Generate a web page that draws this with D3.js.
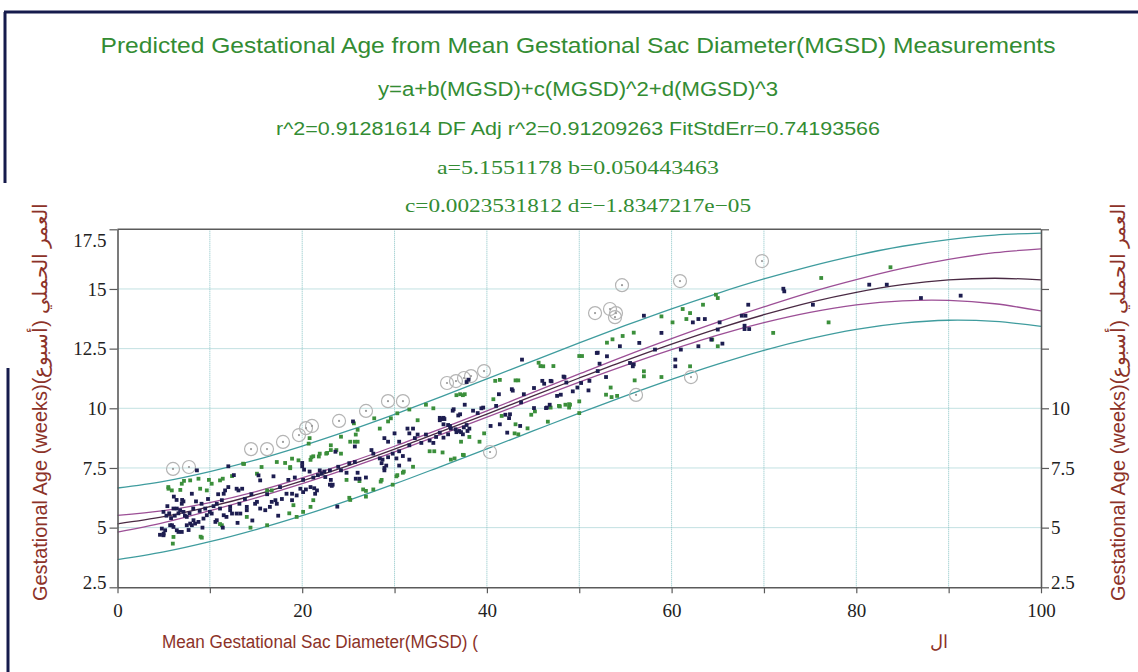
<!DOCTYPE html>
<html>
<head>
<meta charset="utf-8">
<title>Predicted Gestational Age from MGSD</title>
<script src="https://d3js.org/d3.v7.min.js"></script>
<style>
  body { margin: 0; background: #fff; }
  svg text { font-family: "Liberation Sans", Arial, sans-serif; }
  .tick text { font-family: "Liberation Serif", "Times New Roman", serif; font-size: 19px; fill: #222; }
</style>
</head>
<body>
<div id="chart"></div>
<script>
// axis ticks
var xTicks = [0, 10, 20, 30, 40, 50, 60, 70, 80, 90, 100];
var xLabels = [0, 20, 40, 60, 80, 100];
var yTicks = [2.5, 5, 7.5, 10, 12.5, 15, 17.5];
var rightLabels = [2.5, 5, 7.5, 10];

// fitted curve and bands, read at every 5 mm of MGSD
var fitX = [0, 5, 10, 15, 20, 25, 30, 35, 40, 45, 50, 55, 60, 65, 70, 75, 80, 85, 90, 95, 100];
var fitY = [5.16, 5.46, 5.88, 6.38, 6.96, 7.60, 8.29, 9.02, 9.76, 10.52, 11.27, 12.00, 12.69, 13.34, 13.92, 14.44, 14.86, 15.18, 15.38, 15.45, 15.38];
var confUpper = [5.51, 5.71, 6.05, 6.51, 7.08, 7.72, 8.41, 9.14, 9.89, 10.67, 11.44, 12.20, 12.92, 13.61, 14.25, 14.86, 15.39, 15.86, 16.24, 16.52, 16.68];
var confLower = [4.81, 5.21, 5.71, 6.25, 6.84, 7.48, 8.17, 8.90, 9.63, 10.37, 11.10, 11.80, 12.46, 13.07, 13.59, 14.02, 14.33, 14.50, 14.52, 14.38, 14.08];
var predUpper = [6.66, 6.94, 7.35, 7.84, 8.42, 9.06, 9.75, 10.48, 11.23, 11.99, 12.74, 13.47, 14.17, 14.82, 15.42, 15.95, 16.41, 16.79, 17.07, 17.26, 17.34];
var predLower = [3.66, 3.98, 4.41, 4.92, 5.50, 6.14, 6.83, 7.56, 8.30, 9.05, 9.80, 10.52, 11.21, 11.85, 12.43, 12.92, 13.31, 13.57, 13.69, 13.64, 13.43];

// measurements [MGSD, weeks]
var navyPts = [
  [12.0,7.57],[20.0,7.71],[20.0,7.57],[20.2,7.43],[8.05,6.42],[7.14,6.10],[6.96,6.0],[6.78,5.73],[15.27,7.19],[15.45,6.98],
  [16.89,7.15],[17.6,6.70],[18.3,6.42],[18.9,6.15],[19.4,6.35],[15.1,6.08],[14.9,6.0],[15.45,5.80],[16.0,5.73],[16.5,5.87],
  [16.7,6.08],[17.1,6.15],[17.25,6.0],[14.0,5.87],[14.0,5.73],[13.3,5.59],[12.9,5.59],[12.2,5.87],[12.2,5.73],[12.4,5.59],
  [11.1,5.80],[10.75,6.0],[11.3,6.15],[11.5,6.42],[11.65,6.56],[12.0,6.70],[12.9,6.63],[13.1,6.56],[13.5,6.63],[10.0,5.66],
  [10.2,5.59],[9.67,5.52],[9.31,5.38],[8.77,5.24],[8.23,5.31],[7.87,5.17],[7.5,5.45],[7.14,5.66],[6.6,5.6],[6.42,5.80],
  [6.06,5.80],[4.98,5.66],[4.8,4.96],[5.16,4.89],[4.98,4.68],[5.7,5.10],[6.06,5.03],[6.42,4.89],[6.6,4.82],[6.96,4.82],
  [7.5,5.10],[8.05,5.10],[8.4,5.17],[10.6,5.24],[10.75,5.31],[11.5,5.52],[11.8,5.45],[18.9,6.42],[19.8,6.63],[20.1,6.49],
  [20.9,6.70],[21.4,6.42],[21.6,6.56],[22.1,7.26],[22.5,7.12],[21.9,7.40],[4.6,4.7],[5.0,4.75],[5.9,5.1],[6.4,6.16],
  [7.0,6.16],[8.6,7.4],[5.3,5.5],[5.6,5.6],[5.8,5.4],[6.2,5.5],[7.3,5.5],[7.8,5.6],[8.2,5.8],[8.9,5.7],
  [9.1,6.0],[9.5,5.8],[9.8,6.2],[10.4,5.9],[8.5,6.1],[9.2,5.0],[7.7,4.9],[5.4,5.9],[6.1,6.3],[10.9,6.4],
  [13.8,6.2],[14.5,6.4],[13.2,6.0],[16.2,6.4],[17.8,6.2],[18.5,7.0],[19.2,7.1],[14.6,5.3],[13.0,5.2],[17.4,5.5],
  [11.4,5.0],[12.6,7.2],[20.8,7.35],[21.2,7.1],[21.7,7.2],[22.4,7.35],[23.0,7.4],[23.1,7.0],[23.3,6.8],[23.9,7.55],
  [24.2,7.4],[24.8,7.3],[25.1,7.7],[25.7,7.75],[26.0,7.3],[26.2,7.05],[26.9,7.1],[27.5,8.25],[27.7,8.1],[28.4,7.9],
  [28.6,7.7],[28.9,7.5],[29.1,7.6],[28.9,8.75],[29.3,8.6],[29.8,8.1],[30.2,7.9],[30.5,8.2],[30.5,8.6],[30.0,8.95],
  [30.9,8.0],[31.4,9.15],[31.6,8.95],[32.0,9.15],[32.2,8.75],[31.6,8.45],[32.5,8.9],[32.9,8.55],[33.4,8.9],[33.8,8.65],
  [34.2,8.55],[34.5,8.8],[34.9,9.5],[35.1,9.55],[35.4,9.55],[35.8,9.3],[36.1,9.15],[36.3,9.9],[36.9,9.7],[36.7,9.0],
  [37.2,9.0],[37.8,9.3],[38.1,9.15],[38.5,9.9],[39.0,9.8],[39.4,10.0],[37.6,10.15],[37.8,11.1],[25.7,8.4],[25.5,9.45],
  [20.1,7.0],[20.4,6.6],[21.3,6.65],[23.0,6.8],[23.2,6.75],[25.8,7.05],[28.7,7.85],[29.3,7.95],[30.5,7.6],[31.6,7.85],
  [28.9,7.4],[23.8,5.88],[23.6,8.18],[39.6,10.03],[41.0,10.1],[41.3,10.59],[42.7,10.8],[44.0,10.59],[42.5,9.75],[41.4,9.33],
  [40.4,9.26],[42.2,8.98],[43.6,9.26],[46.0,11.15],[46.9,11.15],[46.5,10.03],[47.6,10.52],[48.3,11.33],[48.6,11.08],[51.1,11.15],
  [49.8,10.87],[52.0,11.56],[52.0,12.33],[55.9,11.84],[38.0,11.2],[36.4,9.96],[37.1,9.75],[35.3,9.33],[36.0,9.26],[36.6,9.12],
  [37.0,9.05],[37.5,9.2],[37.9,9.05],[37.4,8.91],[35.8,8.91],[35.3,8.77],[34.9,8.98],[34.9,9.6],[35.3,9.6],[43.8,12.04],
  [42.8,10.74],[45.1,10.85],[47.0,11.13],[46.2,11.03],[48.4,11.31],[49.3,10.71],[50.2,11.06],[48.0,10.57],[46.8,10.15],[46.4,10.01],
  [45.1,10.01],[43.7,10.25],[42.0,9.73],[42.4,9.59],[51.0,10.75],[51.9,12.32],[52.2,11.87],[53.0,12.18],[52.9,11.31],[55.5,11.90],
  [55.8,11.76],[54.4,12.60],[56.5,12.74],[57.0,13.88],[58.9,13.16],[58.2,12.46],[60.4,12.04],[60.4,11.76],[61.0,12.46],[62.3,13.60],
  [62.9,13.74],[63.6,13.74],[65.2,13.60],[65.0,13.30],[62.9,12.60],[64.3,12.88],[65.5,12.71],[67.6,13.88],[68.0,13.88],[68.3,14.34],
  [67.9,13.46],[67.9,13.32],[68.4,13.32],[72.1,15.01],[72.2,14.90],[75.3,14.34],[81.4,15.18],[83.3,15.18],[87.0,14.62],[91.3,14.72]
];
var greenPts = [
  [13.6,7.68],[15.6,7.54],[17.25,7.75],[18.15,7.71],[18.7,7.54],[18.9,7.89],[19.6,7.82],[21.2,7.99],[21.9,8.10],[22.7,8.13],
  [20.7,8.52],[6.96,6.84],[7.87,6.98],[8.95,6.63],[10.2,6.84],[11.1,6.98],[9.67,6.56],[8.77,7.05],[15.1,7.26],[16.2,6.56],
  [16.7,6.56],[6.06,4.61],[5.99,4.33],[9.13,4.58],[11.3,5.10],[14.4,5.0],[16.2,5.10],[14.0,5.45],[5.88,6.56],[5.52,6.63],
  [21.2,6.15],[20.9,5.87],[19.4,5.45],[19.05,5.94],[20.1,5.66],[7.2,6.96],[5.5,6.7],[6.8,6.58],[9.9,7.0],[11.4,7.05],
  [12.4,7.16],[13.7,7.67],[18.7,7.49],[9.0,4.62],[11.1,5.15],[18.6,5.6],[25.2,6.16],[26.9,6.54],[28.5,6.93],[30.3,7.2],
  [31.0,7.35],[36.5,7.9],[37.5,8.04],[43.0,8.95],[44.4,9.16],[46.6,9.44],[24.2,8.81],[25.6,9.37],[27.8,9.58],[29.6,9.58],
  [30.3,9.79],[20.9,7.84],[21.8,7.98],[23.1,8.25],[25.2,8.6],[26.0,8.6],[20.8,8.75],[23.1,8.45],[23.7,8.25],[24.2,8.1],
  [22.6,8.1],[21.0,7.95],[25.7,8.6],[25.8,8.9],[26.0,9.1],[28.4,9.15],[29.3,9.45],[31.6,9.95],[33.4,10.15],[34.2,10.0],
  [32.5,9.5],[33.8,8.2],[34.3,8.2],[35.2,8.15],[36.1,7.85],[37.4,8.05],[37.4,10.55],[36.7,10.55],[38.1,8.8],[39.7,8.95],
  [39.2,8.6],[37.2,8.6],[24.8,7.0],[26.2,6.95],[28.6,7.0],[27.7,6.6],[30.2,7.15],[30.9,7.3],[29.8,6.8],[32.0,7.55],
  [26.9,6.3],[25.1,6.25],[26.6,6.6],[37.1,10.59],[37.6,10.59],[40.9,11.15],[41.4,11.19],[43.1,11.17],[43.4,11.17],[45.6,11.91],
  [45.8,11.77],[47.2,11.77],[46.9,10.03],[47.8,10.1],[48.9,10.03],[48.9,10.17],[50.0,12.19],[50.3,12.19],[53.0,12.75],[53.6,12.89],
  [54.7,13.03],[55.9,13.17],[56.0,11.17],[54.1,10.52],[53.4,10.87],[40.7,10.38],[43.4,8.91],[43.1,9.33],[41.6,9.68],[46.1,11.76],
  [52.9,10.57],[53.5,10.47],[57.0,11.55],[57.0,11.34],[58.9,13.85],[58.9,11.31],[60.1,13.60],[61.2,14.16],[62.0,13.99],[63.4,14.34],
  [61.6,13.74],[64.8,14.76],[65.0,14.62],[65.0,12.60],[64.4,12.88],[62.0,11.76],[71.0,13.16],[76.2,15.46],[77.0,13.60],[83.7,15.91],
  [47.9,10.08],[48.5,10.15],[49.0,10.15],[50.0,10.29],[50.0,9.80],[44.8,9.73],[45.2,9.87]
];
var outlierPts = [
  [6.01,7.46],[7.74,7.54],[14.46,8.29],[16.19,8.29],[17.92,8.59],[19.65,8.88],[20.41,9.17],[21.06,9.26],[23.99,9.47],[26.91,9.89],
  [29.29,10.30],[30.91,10.30],[35.68,11.06],[36.65,11.14],[37.52,11.27],[38.28,11.35],[39.69,11.56],[40.34,8.17],[51.71,13.99],[53.33,14.16],
  [53.98,13.99],[53.87,13.82],[54.63,15.16],[60.91,15.33],[69.79,16.17],[62.10,11.31],[56.15,10.56]
];

var W = 1138, H = 672;
var svg = d3.select("#chart").append("svg").attr("width", W).attr("height", H);

var x = d3.scaleLinear().domain([0, 100]).range([117.5, 1041]);
var y = d3.scaleLinear().domain([2.5, 17.5]).range([587.3, 229.3]);

// window frame left over from the screenshot
svg.append("path")
  .attr("d", "M4,12H1138M5,12V183M8,368V672")
  .attr("stroke", "#161b4c").attr("stroke-width", 3).attr("fill", "none");

// titles
var titleLines = [
  { t: "Predicted Gestational Age from  Mean Gestational Sac Diameter(MGSD) Measurements", y: 53, size: 22, len: 955, serif: false },
  { t: "y=a+b(MGSD)+c(MGSD)^2+d(MGSD)^3", y: 96, size: 20, len: 400, serif: false },
  { t: "r^2=0.91281614  DF Adj r^2=0.91209263  FitStdErr=0.74193566", y: 135, size: 18, len: 604, serif: false },
  { t: "a=5.1551178 b=0.050443463", y: 174, size: 19, len: 282, serif: true },
  { t: "c=0.0023531812 d=\u22121.8347217e\u221205", y: 212, size: 19, len: 346, serif: true }
];
svg.append("g").selectAll("text").data(titleLines).enter().append("text")
  .attr("x", 578).attr("y", d => d.y)
  .attr("text-anchor", "middle")
  .attr("textLength", d => d.len).attr("lengthAdjust", "spacingAndGlyphs")
  .style("font-family", d => d.serif ? "'Liberation Serif', serif" : "'Liberation Sans', Arial, sans-serif")
  .style("font-size", d => d.size + "px")
  .attr("fill", "#338c33")
  .text(d => d.t);

// grid
var grid = svg.append("g").attr("stroke", "#86c2c4").attr("stroke-width", 1).attr("stroke-dasharray", "1,1");
grid.selectAll(".vg").data(xTicks.filter(d => d > 0 && d < 100)).enter().append("line")
  .attr("x1", d => x(d)).attr("x2", d => x(d)).attr("y1", y(17.5)).attr("y2", y(2.5));
grid.selectAll(".hg").data(yTicks.filter(d => d > 2.5 && d < 17.5)).enter().append("line")
  .attr("x1", x(0)).attr("x2", x(100)).attr("y1", d => y(d)).attr("y2", d => y(d));

// curves
var line = d3.line().x((d, i) => x(fitX[i])).y(d => y(d)).curve(d3.curveCatmullRom);
var curves = [
  { v: predUpper, c: "#3f9c9e" }, { v: predLower, c: "#3f9c9e" },
  { v: confUpper, c: "#9c4f96" }, { v: confLower, c: "#9c4f96" },
  { v: fitY, c: "#4a2a44" }
];
svg.append("g").selectAll("path").data(curves).enter().append("path")
  .attr("d", d => line(d.v)).attr("fill", "none")
  .attr("stroke", d => d.c).attr("stroke-width", 1.3);

// outliers
var out = svg.append("g");
out.selectAll("circle.o").data(outlierPts).enter().append("circle")
  .attr("cx", d => x(d[0])).attr("cy", d => y(d[1])).attr("r", 6.5)
  .attr("fill", "none").attr("stroke", "#b4b4b4").attr("stroke-width", 1.2);
out.selectAll("circle.c").data(outlierPts).enter().append("circle")
  .attr("cx", d => x(d[0])).attr("cy", d => y(d[1])).attr("r", 1.1)
  .attr("fill", "#9a9a9a");

// points
var s = 3.8;
svg.append("g").selectAll("rect").data(greenPts).enter().append("rect")
  .attr("x", d => x(d[0]) - s / 2).attr("y", d => y(d[1]) - s / 2)
  .attr("width", s).attr("height", s).attr("fill", "#3b8f3b");
svg.append("g").selectAll("rect").data(navyPts).enter().append("rect")
  .attr("x", d => x(d[0]) - s / 2).attr("y", d => y(d[1]) - s / 2)
  .attr("width", s).attr("height", s).attr("fill", "#1d1d50");

// axes
var fmt = d3.format("");
var gL = svg.append("g").attr("transform", "translate(" + x(0) + ",0)")
  .call(d3.axisLeft(y).tickValues(yTicks).tickSize(8).tickSizeOuter(0).tickPadding(3).tickFormat(fmt));
var gR = svg.append("g").attr("transform", "translate(" + x(100) + ",0)")
  .call(d3.axisRight(y).tickValues(yTicks).tickSize(8).tickSizeOuter(0).tickPadding(2)
    .tickFormat(d => rightLabels.indexOf(d) >= 0 ? fmt(d) : ""));
var gB = svg.append("g").attr("transform", "translate(0," + y(2.5) + ")")
  .call(d3.axisBottom(x).tickValues(xTicks).tickSize(6).tickSizeOuter(0).tickPadding(10)
    .tickFormat(d => xLabels.indexOf(d) >= 0 ? fmt(d) : ""));
[gL, gR, gB].forEach(g => {
  g.select(".domain").attr("stroke", "#5a5a5a").attr("stroke-width", 1.6);
  g.selectAll(".tick line").attr("stroke", "#5a5a5a").attr("stroke-width", 1.2);
});
// edge labels sit inside the frame
gL.selectAll(".tick text").attr("dy", d => d === 17.5 ? "0.9em" : d === 2.5 ? "0.05em" : "0.32em");
gR.selectAll(".tick text").attr("dy", d => d === 2.5 ? "0.05em" : "0.32em");
svg.append("line").attr("x1", x(0)).attr("x2", x(100)).attr("y1", y(17.5)).attr("y2", y(17.5))
  .attr("stroke", "#5a5a5a").attr("stroke-width", 1.6);

// axis titles
var yTitle = "Gestational Age (weeks)(\u0623\u0633\u0628\u0648\u0639) \u0627\u0644\u0639\u0645\u0631 \u0627\u0644\u062d\u0645\u0644\u064a";
[40, 1118].forEach(cx => {
  svg.append("text")
    .attr("transform", "translate(" + cx + ",402) rotate(-90)")
    .attr("text-anchor", "middle").attr("dy", "0.35em")
    .style("font-size", "20px").attr("fill", "#8c3228")
    .text(yTitle);
});
svg.append("text").attr("x", 162).attr("y", 648)
  .attr("textLength", 316).attr("lengthAdjust", "spacingAndGlyphs")
  .style("font-size", "18px").attr("fill", "#8c3228")
  .text("Mean Gestational Sac Diameter(MGSD) (");
svg.append("text").attr("x", 930).attr("y", 648)
  .style("font-size", "18px").attr("fill", "#8c3228")
  .text("\u0627\u0644");
</script>
</body>
</html>
